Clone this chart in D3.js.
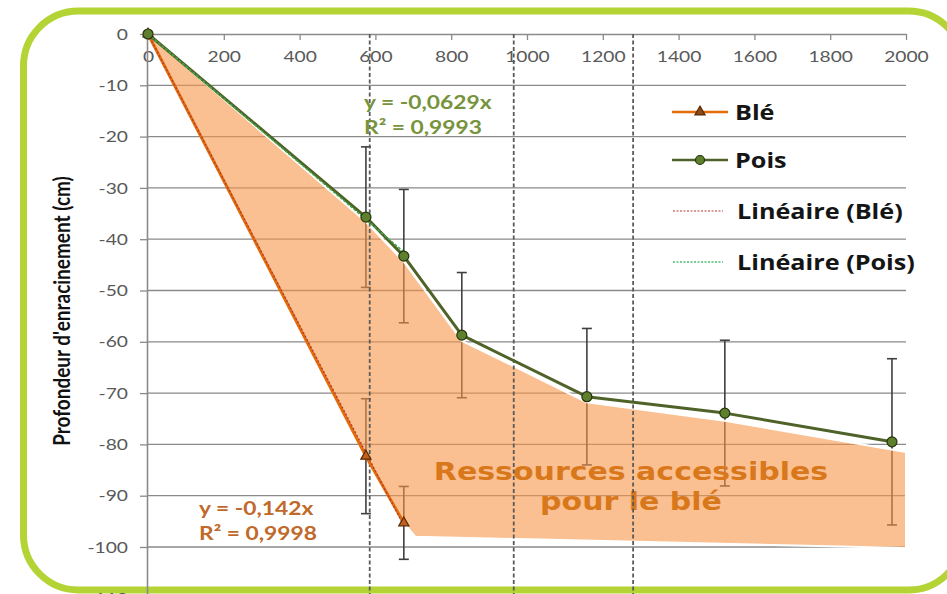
<!DOCTYPE html>
<html><head><meta charset="utf-8">
<script src="https://cdn.jsdelivr.net/npm/d3@7"></script>
<style>
html,body{margin:0;padding:0;background:#fff;}
svg{display:block;}
</style></head><body>
<svg id="chart" width="947" height="594"></svg>
<script>
// Rooting depth (cm) against thermal time, pea and wheat
const poisTime  = [0, 575, 675, 828, 1158, 1522, 1963];
const poisDepth = [0, -35.7, -43.3, -58.7, -70.7, -73.9, -79.5];
const poisError = [0, 13.7, 13.0, 12.2, 13.3, 14.2, 16.2];

const bleTime  = [0, 575, 675];
const bleDepth = [0, -82.3, -95.3];
const bleError = [0, 11.2, 7.1];

// Linear fits forced through the origin
const bleSlope = -0.142;
const poisSlope = -0.0629;
const trendRange = [0, 675];
const bleEquation = ["y = -0,142x", "R\u00B2 = 0,9998"];
const poisEquation = ["y = -0,0629x", "R\u00B2 = 0,9993"];

// Development stage markers
const stageTimes = [585, 965, 1280];

// Soil zone explored by wheat only
const zoneUpperTime  = [0, 575, 675, 828, 1158, 1522, 2000];
const zoneUpperDepth = [0, -36.6, -44.4, -59.8, -71.8, -75.4, -81.5];
const zoneLowerTime  = [2000, 705, 675, 575, 0];
const zoneLowerDepth = [-100.2, -98.0, -95.3, -82.3, 0];
const zoneLabel = ["Ressources accessibles", "pour le blé"];

const xTickValues = [0, 200, 400, 600, 800, 1000, 1200, 1400, 1600, 1800, 2000];
const yTickValues = [0, -10, -20, -30, -40, -50, -60, -70, -80, -90, -100, -110];
const yTitle = "Profondeur d'enracinement (cm)";
const legendLabels = ["Blé", "Pois", "Linéaire (Blé)", "Linéaire (Pois)"];

const SX = 1.2; // horizontal text stretch
const C = {
  frame: "#b4d334", grid: "#8a8a8a", tick: "#595959",
  ble: "#e46c0a", bleMark: "#c0601a", bleEdge: "#5a2a05", bleTrend: "#b0403a",
  pois: "#4f6228", poisMark: "#5e7f2e", poisEdge: "#24340c", poisTrend: "#3fae4f",
  zone: "#f69648", zoneText: "#d9771b", bleEq: "#c0692a", poisEq: "#77933c",
  err: "#404040", stage: "#5a5a5a"
};

const svg = d3.select("#chart");
const x = d3.scaleLinear().domain([0, 2000]).range([148, 906]);
const y = d3.scaleLinear().domain([0, -110]).range([34, 598.3]);
const plain = d => String(d);

function stretch(sel) {
  sel.each(function () {
    const t = d3.select(this);
    const tx = +t.attr("x") || 0, ty = +t.attr("y") || 0;
    t.attr("x", 0).attr("y", 0).attr("transform", `translate(${tx},${ty}) scale(${SX},1)`);
  });
}

// frame
svg.append("rect")
  .attr("x", 23.5).attr("y", 11).attr("width", 940).attr("height", 579)
  .attr("rx", 55).attr("ry", 55)
  .attr("fill", "none").attr("stroke", C.frame).attr("stroke-width", 7);

// horizontal gridlines
svg.append("g").selectAll("line").data(yTickValues.filter(v => v < 0)).join("line")
  .attr("x1", x(0)).attr("x2", x(2000))
  .attr("y1", d => y(d)).attr("y2", d => y(d))
  .attr("stroke", C.grid).attr("stroke-width", 1.3);

// x axis along depth 0
const gx = svg.append("g").attr("transform", `translate(0,${y(0)})`)
  .call(d3.axisBottom(x).tickValues(xTickValues).tickFormat(plain)
    .tickSize(6).tickSizeOuter(0).tickPadding(11));
// y axis
const gy = svg.append("g").attr("transform", `translate(${x(0) - 1},0)`)
  .call(d3.axisLeft(y).tickValues(yTickValues).tickFormat(plain)
    .tickSize(7).tickSizeOuter(0).tickPadding(12));

[gx, gy].forEach(g => {
  g.select(".domain").attr("stroke", C.grid).attr("stroke-width", 1.6);
  g.selectAll(".tick line").attr("stroke", C.grid).attr("stroke-width", 1.3);
  g.selectAll(".tick text")
    .attr("font-family", "Lato, sans-serif").attr("font-size", 16)
    .attr("fill", C.tick);
  stretch(g.selectAll(".tick text"));
});

// y axis title
svg.append("text")
  .attr("transform", `translate(61,311) scale(${SX},1) rotate(-90)`)
  .attr("text-anchor", "middle").attr("dominant-baseline", "central")
  .attr("font-family", "Lato, sans-serif").attr("font-weight", 700).attr("font-size", 19)
  .attr("fill", "#111").text(yTitle);

// error bars
function errorBars(times, depths, errs) {
  const g = svg.append("g").attr("stroke", C.err).attr("stroke-width", 1.6);
  times.forEach((t, i) => {
    if (!errs[i]) return;
    const cx = x(t), top = y(depths[i] + errs[i]), bot = y(depths[i] - errs[i]);
    g.append("line").attr("x1", cx).attr("x2", cx).attr("y1", top).attr("y2", bot);
    g.append("line").attr("x1", cx - 5).attr("x2", cx + 5).attr("y1", top).attr("y2", top);
    g.append("line").attr("x1", cx - 5).attr("x2", cx + 5).attr("y1", bot).attr("y2", bot);
  });
}
errorBars(poisTime, poisDepth, poisError);
errorBars(bleTime, bleDepth, bleError);

// zone only reached by wheat
const zonePts = zoneUpperTime.map((t, i) => [x(t), y(zoneUpperDepth[i])])
  .concat(zoneLowerTime.map((t, i) => [x(t), y(zoneLowerDepth[i])]));
svg.append("path")
  .attr("d", d3.line()(zonePts) + "Z")
  .attr("fill", C.zone).attr("fill-opacity", 0.6)
  .attr("stroke", "#fff").attr("stroke-width", 2).attr("stroke-linejoin", "round");

const zt = svg.append("g")
  .attr("font-family", "'DejaVu Sans', sans-serif").attr("font-weight", 700)
  .attr("font-size", 25).attr("fill", C.zoneText).attr("text-anchor", "middle");
zt.append("text").attr("x", 631).attr("y", 480).text(zoneLabel[0]);
zt.append("text").attr("x", 631).attr("y", 510).text(zoneLabel[1]);
stretch(zt.selectAll("text"));

// development stage markers
svg.append("g").selectAll("line").data(stageTimes).join("line")
  .attr("x1", d => x(d)).attr("x2", d => x(d)).attr("y1", y(0)).attr("y2", 594)
  .attr("stroke", C.stage).attr("stroke-width", 1.8).attr("stroke-dasharray", "4,2.5");

// series lines
const line = d3.line().x(d => x(d[0])).y(d => y(d[1]));
const blePts = bleTime.map((t, i) => [t, bleDepth[i]]);
const poisPts = poisTime.map((t, i) => [t, poisDepth[i]]);

svg.append("path").attr("d", line(blePts)).attr("fill", "none")
  .attr("stroke", C.ble).attr("stroke-width", 3);
svg.append("path").attr("d", line(trendRange.map(t => [t, bleSlope * t]))).attr("fill", "none")
  .attr("stroke", C.bleTrend).attr("stroke-width", 1.4).attr("stroke-dasharray", "2,2");

svg.append("path").attr("d", line(poisPts)).attr("fill", "none")
  .attr("stroke", C.pois).attr("stroke-width", 3).attr("stroke-linejoin", "round");
svg.append("path").attr("d", line(trendRange.map(t => [t, poisSlope * t]))).attr("fill", "none")
  .attr("stroke", C.poisTrend).attr("stroke-width", 1.4).attr("stroke-dasharray", "3,1.5");

// markers
const tri = d3.symbol().type(d3.symbolTriangle).size(45);
svg.append("g").selectAll("path").data(blePts).join("path")
  .attr("d", tri).attr("transform", d => `translate(${x(d[0])},${y(d[1])})`)
  .attr("fill", C.bleMark).attr("stroke", C.bleEdge).attr("stroke-width", 1.2);
svg.append("g").selectAll("circle").data(poisPts).join("circle")
  .attr("cx", d => x(d[0])).attr("cy", d => y(d[1])).attr("r", 5)
  .attr("fill", C.poisMark).attr("stroke", C.poisEdge).attr("stroke-width", 1.2);

// trend equations
function equation(lines, x0, y0, color) {
  const g = svg.append("g").attr("font-family", "Lato, sans-serif").attr("font-weight", 700)
    .attr("font-size", 19).attr("fill", color);
  lines.forEach((s, i) => g.append("text").attr("x", x0).attr("y", y0 + i * 25).text(s));
  stretch(g.selectAll("text"));
}
equation(poisEquation, 364, 109, C.poisEq);
equation(bleEquation, 199, 515, C.bleEq);

// legend
const legendY = [112, 160, 211, 262];
const lg = svg.append("g");
legendLabels.forEach((lab, i) => {
  const ly = legendY[i];
  const row = lg.append("g");
  if (i < 2) {
    row.append("line").attr("x1", 672).attr("x2", 728).attr("y1", ly).attr("y2", ly)
      .attr("stroke", i === 0 ? C.ble : C.pois).attr("stroke-width", 2.5);
    if (i === 0) {
      row.append("path").attr("d", tri).attr("transform", `translate(700,${ly})`)
        .attr("fill", "#8a4a1a").attr("stroke", C.bleEdge).attr("stroke-width", 1.2);
    } else {
      row.append("circle").attr("cx", 700).attr("cy", ly).attr("r", 4.5)
        .attr("fill", C.poisMark).attr("stroke", C.poisEdge).attr("stroke-width", 1.2);
    }
  } else {
    row.append("line").attr("x1", 673).attr("x2", 723).attr("y1", ly).attr("y2", ly)
      .attr("stroke", i === 2 ? "#d07a7a" : "#4cc070").attr("stroke-width", 1.3)
      .attr("stroke-dasharray", "2,1.5");
  }
  row.append("text").attr("x", i < 2 ? 735 : 737).attr("y", ly)
    .attr("dominant-baseline", "central")
    .attr("font-family", "'Open Sans', sans-serif").attr("font-weight", 700).attr("font-size", 21)
    .attr("fill", "#151515").text(lab);
});
stretch(lg.selectAll("text"));
</script>
</body></html>
